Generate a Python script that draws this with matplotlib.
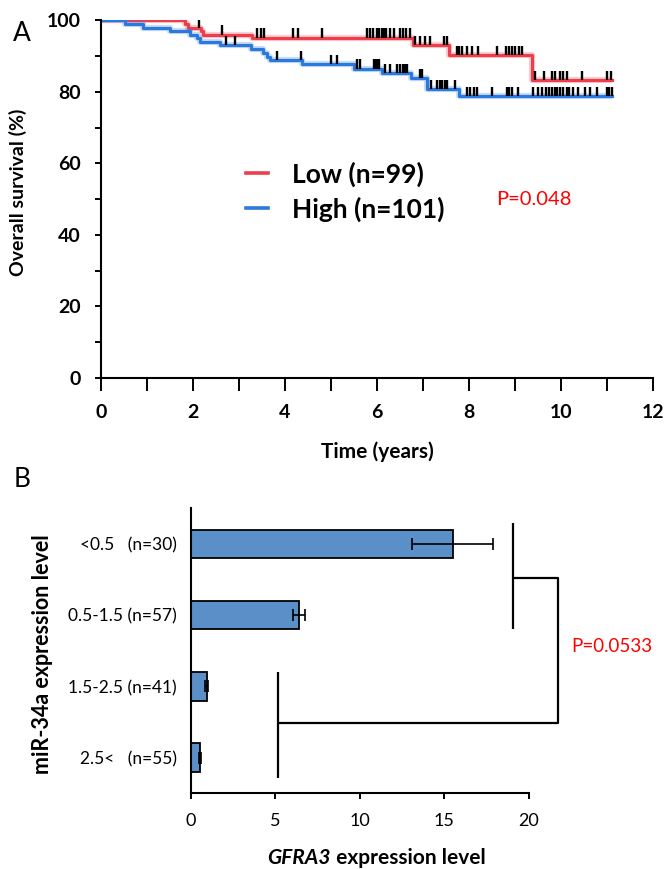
import numpy as np
import matplotlib
matplotlib.use("Agg")
import matplotlib.pyplot as plt
from matplotlib.offsetbox import TextArea, HPacker, AnnotationBbox

plt.rcParams["font.family"] = ["Lato", "DejaVu Sans"]

# ---- panel A: Kaplan-Meier, miR-34a low / high ----
low_t = [0, 1.83, 1.88, 2.18, 2.22, 3.28, 6.79, 7.57, 9.36]
low_s = [100, 99.0, 98.0, 97.0, 96.0, 95.2, 93.1, 90.3, 83.3]
low_end = 11.1
low_cens = [1.14, 1.65, 1.80, 2.13, 2.62, 3.40, 3.47, 3.54, 4.18, 4.29, 4.80,
            5.78, 5.85, 5.92, 5.99, 6.05, 6.10, 6.15, 6.20, 6.28, 6.36, 6.50,
            6.57, 6.64, 6.72, 6.83, 6.94, 7.05, 7.16, 7.45, 7.52, 7.74, 7.79,
            7.84, 7.95, 8.06, 8.20, 8.60, 8.80, 8.87, 8.94, 9.01, 9.08, 9.15,
            9.43, 9.62, 9.80, 9.87, 9.98, 10.05, 10.12, 10.45, 10.99, 11.08]

high_t = [0, 0.52, 0.92, 1.50, 1.93, 2.08, 2.15, 2.59, 3.25, 3.53, 3.60, 3.67,
          4.36, 5.49, 6.10, 6.73, 7.08, 7.78]
high_s = [100, 99.0, 98.0, 97.0, 96.0, 95.0, 94.1, 93.1, 92.1, 90.9, 89.9, 88.9,
          87.7, 86.5, 85.3, 83.8, 80.7, 78.8]
high_end = 11.1
high_cens = [2.71, 2.91, 3.83, 4.35, 5.01, 5.12, 5.56, 5.63, 5.93, 5.97, 6.01,
             6.05, 6.17, 6.28, 6.43, 6.50, 6.57, 6.61, 6.65, 6.93, 6.97, 7.18,
             7.30, 7.37, 7.41, 7.48, 7.52, 7.70, 7.95, 8.02, 8.10, 8.17, 8.49,
             8.82, 8.88, 8.93, 9.07, 9.40, 9.50, 9.58, 9.67, 9.73, 9.80, 9.86,
             9.92, 9.98, 10.05, 10.12, 10.18, 10.27, 10.38, 10.52, 10.63, 10.78,
             10.99, 11.05, 11.10]

km_labels = ["Low (n=99)", "High (n=101)"]
km_p = "P=0.048"

# ---- panel B: GFRA3 expression by miR-34a level ----
groups = ["<0.5   (n=30)", "0.5-1.5 (n=57)", "1.5-2.5 (n=41)", "2.5<   (n=55)"]
gfra3 = [15.5, 6.4, 0.93, 0.55]
gfra3_err = [2.4, 0.35, 0.08, 0.05]
bar_p = "P=0.0533"

RED = "#EE3E4C"
BLUE = "#2B78DE"

fig = plt.figure(figsize=(6.66, 8.69), dpi=100)

# ================= A =================
ax = fig.add_axes([0.1517, 0.565, 0.8288, 0.4115])


def surv_at(times, surv, t):
    i = np.searchsorted(times, t, side="right") - 1
    return np.asarray(surv)[i]


for tt, ss, end, cens, col, lab in [
    (low_t, low_s, low_end, low_cens, RED, km_labels[0]),
    (high_t, high_s, high_end, high_cens, BLUE, km_labels[1]),
]:
    x = list(tt) + [end]
    y = list(ss) + [ss[-1]]
    ax.step(x, y, where="post", color=col, lw=4.5, alpha=0.25, solid_capstyle="butt")
    ax.step(x, y, where="post", color=col, lw=2.3, label=lab)
    c = np.array(cens)
    base = surv_at(tt, ss, c)
    ax.vlines(c, base, base + 2.6, color="black", lw=1.7)

ax.set_xlim(0, 12)
ax.set_ylim(0, 100)
ax.set_xticks(np.arange(0, 13, 2))
ax.set_xticks(np.arange(0, 13, 1), minor=True)
ax.set_yticks(np.arange(0, 101, 20))
ax.set_yticks(np.arange(0, 101, 10), minor=True)
for s in ["top", "right"]:
    ax.spines[s].set_visible(False)
for s in ["left", "bottom"]:
    ax.spines[s].set_linewidth(1.5)
ax.tick_params(axis="x", which="both", direction="out", length=9, width=1.4, pad=10)
ax.tick_params(axis="y", which="both", direction="out", length=4.5, width=1.4, pad=10)
for lbl in ax.get_xticklabels() + ax.get_yticklabels():
    lbl.set_fontsize(14)
    lbl.set_fontweight("bold")
ax.set_xlabel("Time (years)", fontsize=15, fontweight="bold", va="center")
ax.xaxis.set_label_coords(0.5, -0.205)
ax.set_ylabel("Overall survival (%)", fontsize=14, fontweight="bold", va="center")
ax.yaxis.set_label_coords(-0.15, 0.52)

leg = ax.legend(loc="upper left", bbox_to_anchor=(0.262, 0.606), frameon=False,
                borderpad=0, borderaxespad=0, handlelength=0.85, handletextpad=0.9,
                labelspacing=0.36, prop={"size": 19, "weight": "bold"})
for h in leg.get_lines():
    h.set_linewidth(2.6)
    h.set_alpha(1)
ax.text(8.6, 49.8, km_p, color="red", fontsize=14.5, va="center", ha="left")

fig.text(0.02, 0.962, "A", fontsize=19, va="center", ha="left")

# ================= B =================
bx = fig.add_axes([0.2868, 0.0871, 0.5069, 0.328])
pos = np.arange(len(groups))
bx.barh(pos, gfra3, height=0.4, xerr=gfra3_err, color="#5B8FC8",
        edgecolor="black", linewidth=1.3,
        error_kw=dict(ecolor="black", elinewidth=1.2, capsize=4, capthick=1.2))
bx.set_ylim(3.5, -0.5)
bx.set_xlim(0, 20)
bx.set_yticks(pos)
bx.set_yticklabels(groups, fontsize=12.5)
bx.set_xticks(np.arange(0, 21, 5))
for lbl in bx.get_xticklabels():
    lbl.set_fontsize(13)
for s in ["top", "right"]:
    bx.spines[s].set_visible(False)
for s in ["left", "bottom"]:
    bx.spines[s].set_linewidth(1.5)
bx.tick_params(axis="y", length=0, pad=10)
bx.tick_params(axis="x", direction="out", length=4, width=1.4, pad=10)
bx.set_ylabel("miR-34a expression level", fontsize=15.5, fontweight="bold", va="center")
bx.yaxis.set_label_coords(-0.441, 0.489)

# significance brackets
kw = dict(color="black", lw=1.6, clip_on=False, solid_capstyle="butt")
bx.plot([19.1, 19.1], [-0.29, 1.2], **kw)
bx.plot([5.15, 5.15], [1.8, 3.29], **kw)
bx.plot([19.1, 21.75, 21.75, 5.15], [0.48, 0.48, 2.52, 2.52], **kw)
bx.text(22.5, 1.44, bar_p, color="red", fontsize=13.5, va="center", ha="left", clip_on=False)

# x label with italic gene name
xl = HPacker(children=[
    TextArea("GFRA3", textprops=dict(fontsize=15, fontweight="bold", style="italic")),
    TextArea(" expression level", textprops=dict(fontsize=15, fontweight="bold")),
], align="baseline", pad=0, sep=0)
ab = AnnotationBbox(xl, (0.55, 1 - 858 / 869), xycoords=("axes fraction", "figure fraction"),
                    frameon=False, box_alignment=(0.5, 0.5))
bx.add_artist(ab)

fig.text(0.02, 0.448, "B", fontsize=19, va="center", ha="left")

fig.savefig("out.png", dpi=100)
